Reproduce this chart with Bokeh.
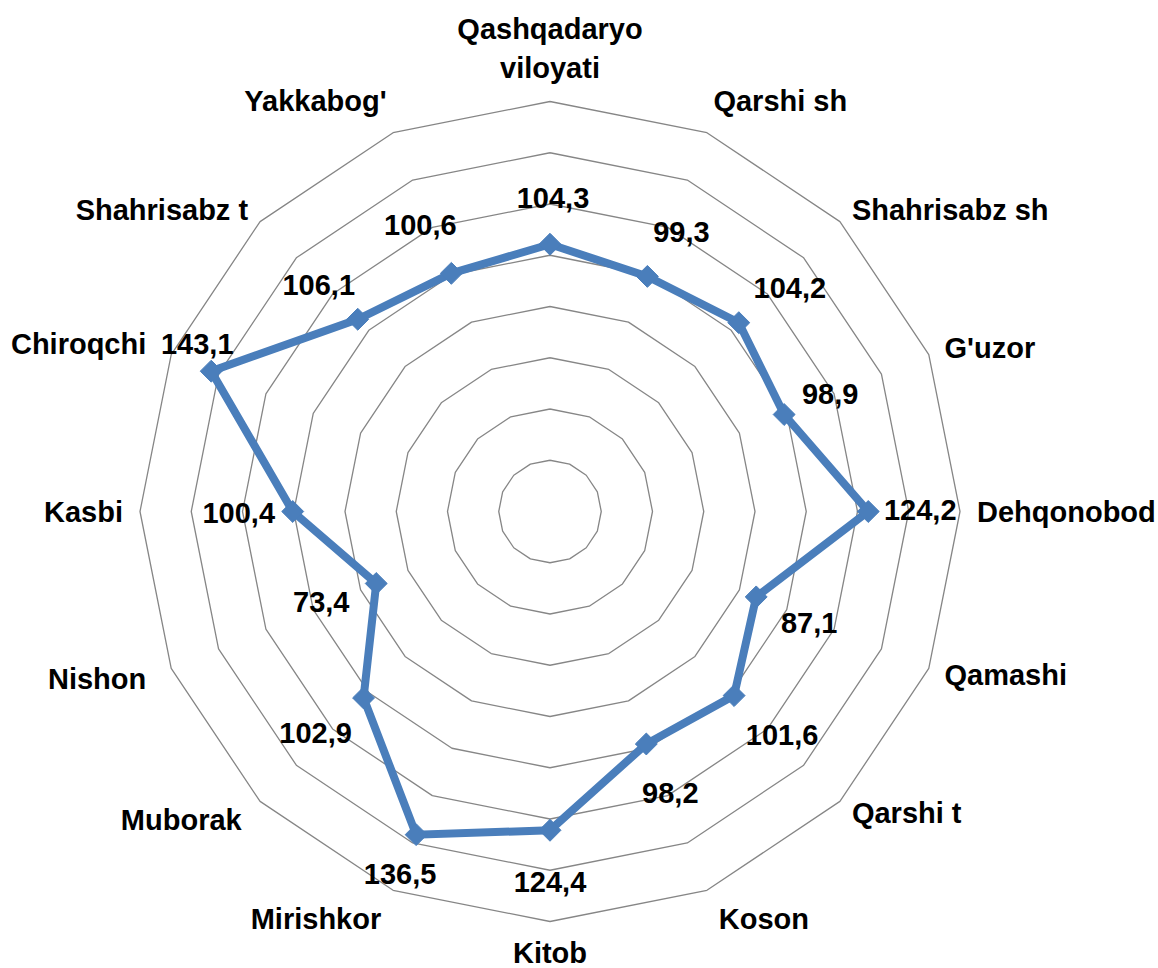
import math
from bokeh.plotting import figure
from bokeh.models import Range1d
from bokeh.core.properties import value
from bokeh.embed import file_html
from bokeh.resources import INLINE

# ---- data ----
categories = ["Qashqadaryo\nviloyati", "Qarshi sh", "Shahrisabz sh", "G'uzor", "Dehqonobod",
              "Qamashi", "Qarshi t", "Koson", "Kitob", "Mirishkor", "Muborak", "Nishon",
              "Kasbi", "Chiroqchi", "Shahrisabz t", "Yakkabog'"]
values = [104.3, 99.3, 104.2, 98.9, 124.2, 87.1, 101.6, 98.2, 124.4, 136.5,
          102.9, 73.4, 100.4, 143.1, 106.1, 100.6]
ring_levels = [20, 40, 60, 80, 100, 120, 140, 160]

# ---- layout (pixels) ----
cx, cy = 549.5, 511.0            # centre in page pixels
outer_px = 410.0
k = outer_px / ring_levels[-1]   # pixels per unit
label_r_px = 427.0
bottom_label_r_px = 441.0
# extra radial distance for some category labels, pixels
cat_r_extra_px = [0, 0, 0, 0, 0, 0, 0, 0, 0, 0, 9, 10, 0, 10, 0, 0]
# data-label nudges relative to each point (dx right, dy down), pixels
label_nudge_px = [(3, -46), (34, -44), (51, -35), (46, -21), (52, -2), (53, 26),
                  (48, 39), (24, 49), (0, 52), (-16, 39), (-48, 35), (-55, 19),
                  (-54, 1), (-14, -27), (-39, -34), (-31, -48)]

W, H = 1158, 968
X0, Y0 = 0, 0   # page offset of the figure
p = figure(width=W, height=H, output_backend="svg", toolbar_location=None,
           x_axis_type=None, y_axis_type=None, min_border=0,
           x_range=Range1d((X0 - cx) / k, (X0 + W - cx) / k),
           y_range=Range1d((cy - (Y0 + H)) / k, (cy - Y0) / k))
p.grid.visible = False
p.outline_line_color = None
p.background_fill_color = "white"
p.border_fill_color = "white"

n = len(categories)
angles = [2 * math.pi * i / n for i in range(n)]

# grid rings
xs, ys = [], []
for lvl in ring_levels:
    xs.append([lvl * math.sin(a) for a in angles] + [0.0])
    ys.append([lvl * math.cos(a) for a in angles] + [lvl])
p.multi_line(xs, ys, line_color="#868686", line_width=1.3)

# series
px = [v * math.sin(a) for v, a in zip(values, angles)]
py = [v * math.cos(a) for v, a in zip(values, angles)]
blue = "#4A7EBB"
p.line(px + [px[0]], py + [py[0]], line_color=blue, line_width=8, line_join="miter")
p.scatter(px, py, marker="square", size=15.5, angle=math.pi / 4,
          fill_color=blue, line_color=blue, line_width=1)

font = value("Liberation Sans")
fsize = "29px"

# data labels
lx = [x + d[0] / k for x, d in zip(px, label_nudge_px)]
ly = [y - d[1] / k for y, d in zip(py, label_nudge_px)]
ltext = [f"{v:.1f}".replace(".", ",") for v in values]
p.text(lx, ly, text=ltext, text_font=font, text_font_style="bold",
       text_font_size=fsize, text_color="black",
       text_align="center", text_baseline="middle")

# category labels
for cat, a, extra in zip(categories, angles, cat_r_extra_px):
    s, c = math.sin(a), math.cos(a)
    r = (label_r_px + extra) / k
    align = "left" if s > 0.1 else ("right" if s < -0.1 else "center")
    if c > 0.9:
        base = "bottom"
    elif c < -0.9:
        base = "middle"
        r = bottom_label_r_px / k
    else:
        base = "middle"
    p.text([r * s], [r * c], text=[cat], text_font=font, text_font_style="bold",
           text_font_size=fsize, text_color="black", text_align=align,
           text_baseline=base, text_line_height=1.22)

open("out.html", "w").write(file_html(p, INLINE))
